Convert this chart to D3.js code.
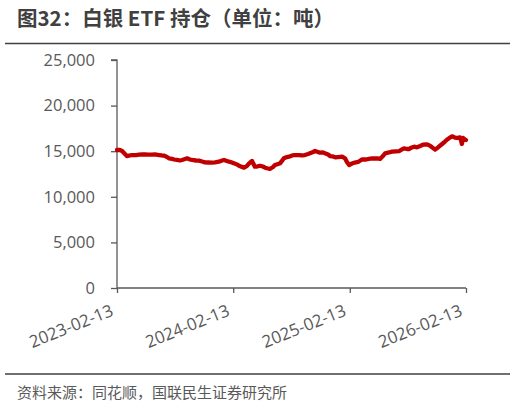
<!DOCTYPE html>
<html><head><meta charset="utf-8">
<script src="https://cdn.jsdelivr.net/npm/d3@7"></script>
<style>
html,body{margin:0;padding:0;background:#fff;}
svg{display:block;}
</style></head>
<body>
<svg id="chart" width="516" height="408"></svg>
<script>
const titleText = "图32：白银 ETF 持仓（单位：吨）";
const sourceText = "资料来源：同花顺，国联民生证券研究所";
const xTickLabels = ["2023-02-13","2024-02-13","2025-02-13","2026-02-13"];
const yTicks = [0,5000,10000,15000,20000,25000];
const dates = [
"2023-02-13","2023-02-22","2023-03-01","2023-03-10","2023-03-16","2023-03-26","2023-04-01","2023-04-14","2023-04-23","2023-05-03",
"2023-05-12","2023-05-21","2023-06-03","2023-06-12","2023-06-25","2023-07-04","2023-07-11","2023-07-20","2023-07-26","2023-08-05",
"2023-08-11","2023-08-20","2023-08-30","2023-09-05","2023-09-15","2023-09-21","2023-09-30","2023-10-07","2023-10-19","2023-10-29",
"2023-11-07","2023-11-16","2023-11-26","2023-12-08","2023-12-18","2023-12-30","2024-01-09","2024-01-15","2024-01-24","2024-01-31",
"2024-02-09","2024-02-15","2024-02-25","2024-03-02","2024-03-12","2024-03-18","2024-03-27","2024-04-03","2024-04-12","2024-04-21",
"2024-04-28","2024-05-07","2024-05-16","2024-05-23","2024-06-01","2024-06-07","2024-06-17","2024-06-23","2024-07-03","2024-07-09",
"2024-07-15","2024-07-21","2024-07-31","2024-08-06","2024-08-16","2024-08-22","2024-08-31","2024-09-07","2024-09-16","2024-09-25",
"2024-10-05","2024-10-11","2024-10-21","2024-10-27","2024-11-05","2024-11-11","2024-11-21","2024-11-27","2024-12-07","2024-12-13",
"2024-12-22","2024-12-29","2025-01-07","2025-01-20","2025-01-29","2025-02-04","2025-02-11","2025-02-20","2025-03-01","2025-03-11",
"2025-03-23","2025-04-05","2025-04-14","2025-04-24","2025-05-03","2025-05-13","2025-05-19","2025-05-28","2025-06-04","2025-06-16",
"2025-06-26","2025-07-08","2025-07-18","2025-07-27","2025-08-02","2025-08-12","2025-08-18","2025-08-27","2025-09-03","2025-09-12",
"2025-09-22","2025-10-01","2025-10-10","2025-10-17","2025-10-26","2025-11-08","2025-11-17","2025-11-30","2025-12-09","2025-12-15",
"2025-12-25","2025-12-31","2026-01-09","2026-01-16","2026-01-25","2026-01-28","2026-01-31","2026-02-04","2026-02-10","2026-02-13"
];
const holdings = [
15130,15130,15020,14690,14470,14530,14580,14580,14620,14640,
14660,14620,14620,14640,14580,14530,14510,14360,14220,14170,
14090,14040,13980,14040,14150,14220,14090,14040,13980,13960,
13870,13780,13760,13740,13780,13850,13980,14040,13930,13850,
13760,13670,13540,13410,13270,13190,13380,13670,13930,13300,
13320,13410,13320,13190,13100,13050,13270,13490,13600,13670,
13930,14220,14360,14400,14530,14580,14580,14580,14530,14580,
14690,14770,14910,15020,14910,14840,14860,14770,14640,14470,
14420,14330,14360,14400,14220,13820,13490,13650,13760,13820,
14090,14090,14150,14200,14220,14200,14150,14470,14770,14860,
14950,14990,15020,15190,15320,15240,15240,15410,15490,15430,
15570,15710,15740,15710,15520,15170,15410,15790,16060,16260,
16500,16630,16500,16450,16520,16230,15790,16450,16260,16230
];

const svg = d3.select("#chart");
const W = 516, H = 408;
const margin = {left:117, right:50, top:60, bottom:120};
const parse = d3.timeParse("%Y-%m-%d");
const data = dates.map((d,i)=>({date:parse(d), v:holdings[i]}));

const x = d3.scaleTime()
  .domain([parse(xTickLabels[0]), parse(xTickLabels[xTickLabels.length-1])])
  .range([margin.left, W - margin.right]);
const y = d3.scaleLinear().domain([0,25000]).range([288, 60]);

const textColor = "#595959";
const axisColor = "#595959";

// Title
svg.append("text").attr("x",17).attr("y",26)
  .attr("font-family","'Noto Sans CJK SC', sans-serif")
  .attr("font-weight","bold").attr("font-size","20.5px")
  .attr("fill","#404040").text(titleText);

// rules
svg.append("line").attr("x1",5).attr("x2",510).attr("y1",43.5).attr("y2",43.5)
  .attr("stroke","#404040").attr("stroke-width",1.5);
svg.append("line").attr("x1",5).attr("x2",510).attr("y1",374).attr("y2",374)
  .attr("stroke","#404040").attr("stroke-width",1.5);

// Source
svg.append("text").attr("x",17).attr("y",398)
  .attr("font-family","'Noto Sans CJK SC', sans-serif")
  .attr("font-size","15px").attr("fill",textColor).text(sourceText);

// Y axis
const yAxis = d3.axisLeft(y).tickValues(yTicks).tickSize(6).tickPadding(16)
  .tickFormat(d3.format(","));
const gy = svg.append("g").attr("transform",`translate(${margin.left},0)`).call(yAxis);
gy.select(".domain").attr("stroke",axisColor).attr("stroke-width",1.3).attr("d",`M-6,${y(25000)}H0V${y(0)}`);
gy.selectAll(".tick line").attr("stroke",axisColor).attr("stroke-width",1.3);
gy.selectAll(".tick text").attr("fill",textColor)
  .attr("font-family","'Open Sans', sans-serif").attr("font-size","16.5px");

// X axis
const xAxis = d3.axisBottom(x).tickValues(xTickLabels.map(parse)).tickSize(5)
  .tickFormat(d3.timeFormat("%Y-%m-%d"));
const gx = svg.append("g").attr("transform",`translate(0,${y(0)})`).call(xAxis);
gx.select(".domain").attr("stroke",axisColor).attr("stroke-width",1.3).attr("d",`M${x.range()[0]},0H${x.range()[1]}`);
gx.selectAll(".tick line").attr("stroke",axisColor).attr("stroke-width",1.3);
gx.selectAll(".tick text").attr("fill",textColor)
  .attr("font-family","'Open Sans', sans-serif").attr("font-size","17px")
  .attr("text-anchor","end").attr("dy",null).attr("y",0)
  .attr("transform","translate(-3,27) rotate(-22)");

// Line
const line = d3.line().x(d=>x(d.date)).y(d=>y(d.v)).curve(d3.curveLinear);
svg.append("path").datum(data).attr("d",line)
  .attr("fill","none").attr("stroke","#c00000").attr("stroke-width",4.3)
  .attr("stroke-linejoin","round").attr("stroke-linecap","round");
</script>
</body></html>
